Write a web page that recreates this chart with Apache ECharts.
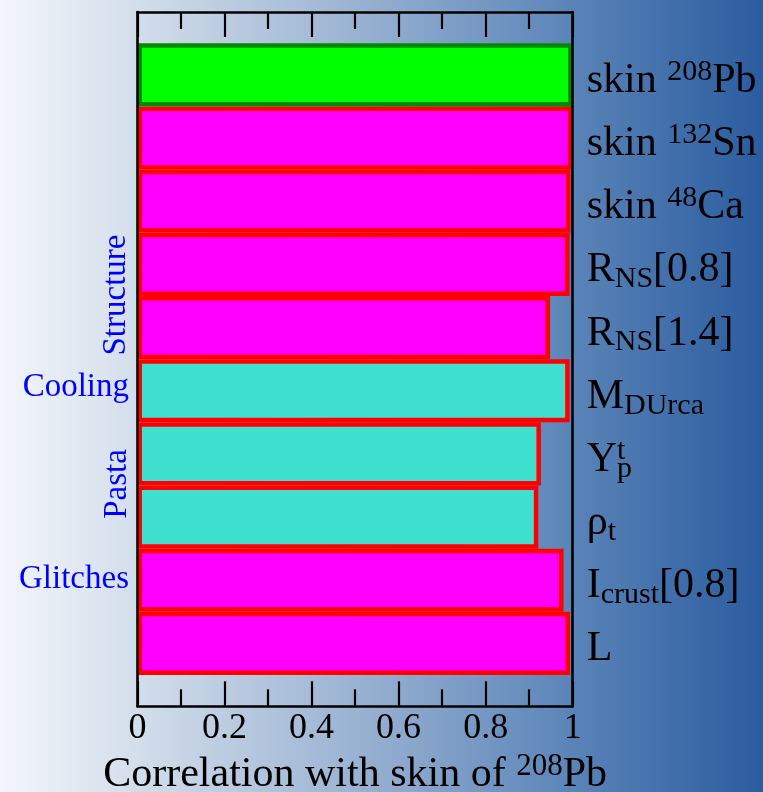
<!DOCTYPE html>
<html>
<head>
<meta charset="utf-8">
<title>Correlation with skin of 208Pb</title>
<script src="https://cdn.jsdelivr.net/npm/echarts@6/dist/echarts.min.js"></script>
<style>
  html, body { margin: 0; padding: 0; }
  #chart { width: 763px; height: 792px; }
</style>
</head>
<body>
<div id="chart"></div>
<script>
// Observables, listed from top to bottom
const categories = ['skin 208Pb', 'skin 132Sn', 'skin 48Ca', 'RNS[0.8]', 'RNS[1.4]',
                    'MDUrca', 'Ypt', 'rhot', 'Icrust[0.8]', 'L'];
// Rich-text forms of the observable names (sub/superscripts)
const categoryLabels = [
  '{m|skin }{sup|208}{m|Pb}',
  '{m|skin }{sup|132}{m|Sn}',
  '{m|skin }{sup|48}{m|Ca}',
  '{m|R}{sub|NS}{m|[0.8]}',
  '{m|R}{sub|NS}{m|[1.4]}',
  '{m|M}{sub|DUrca}',
  '{m|Y}{supz|t}{sub|p}',
  '{m|ρ}{sub|t}',
  '{m|I}{sub|crust}{m|[0.8]}',
  '{m|L}'
];
// Correlation coefficient with the neutron skin of 208Pb
const correlation = [1.0, 1.0, 0.995, 0.993, 0.948, 0.993, 0.927, 0.921, 0.979, 0.994];
// Bar kind: reference, structure/glitch quantities, cooling/pasta quantities
const barKind = ['ref', 'mag', 'mag', 'mag', 'mag', 'cyan', 'cyan', 'cyan', 'mag', 'mag'];
// Bottom axis tick labels
const xTickLabels = ['0', '0.2', '0.4', '0.6', '0.8', '1'];
// Group labels on the left
const groupLabels = ['Structure', 'Cooling', 'Pasta', 'Glitches'];

const kindStyle = {
  ref:  { color: '#00ff00', borderColor: '#008a00' },
  mag:  { color: '#ff00ff', borderColor: '#ff0000' },
  cyan: { color: '#40e0d0', borderColor: '#ff0000' }
};

const FONT = '"Liberation Serif", "Times New Roman", serif';

// Draw from bottom to top so the top bar is painted last
const order = categories.map((_, i) => i).reverse();
const yCats = order.map(i => categories[i]);
const labelMap = {};
categories.forEach((c, i) => { labelMap[c] = categoryLabels[i]; });
const barData = order.map(i => ({
  value: correlation[i],
  itemStyle: {
    color: kindStyle[barKind[i]].color,
    borderColor: kindStyle[barKind[i]].borderColor,
    borderWidth: 4.5
  }
}));

const chart = echarts.init(document.getElementById('chart'), null, { renderer: 'canvas' });

const frameLeft = 137.5, frameRight = 190.3;
const frameAxisLine = { show: true, onZero: false, lineStyle: { color: '#000', width: 2.6 } };
const frameTick = { show: true, inside: true, length: 25, lineStyle: { color: '#000', width: 2.2 } };
const frameMinor = { show: true, splitNumber: 2, length: 17, lineStyle: { color: '#000', width: 2.2 } };

const option = {
  animation: false,
  backgroundColor: {
    type: 'linear', x: 0, y: 0, x2: 1, y2: 0,
    colorStops: [
      { offset: 0, color: '#f3f6fb' },
      { offset: 0.18, color: '#d3deeb' },
      { offset: 0.5, color: '#93adcf' },
      { offset: 0.75, color: '#5a84b8' },
      { offset: 1, color: '#2b5c9f' }
    ]
  },
  grid: [
    { left: frameLeft, right: frameRight, top: 12, bottom: 85.7, containLabel: false, outerBoundsMode: 'none' },
    { left: frameLeft, right: frameRight, top: 43.3, bottom: 117, containLabel: false, outerBoundsMode: 'none' }
  ],
  xAxis: [
    {
      gridIndex: 0, type: 'value', position: 'bottom', min: 0, max: 1, interval: 0.2, z: 5,
      axisLine: frameAxisLine, axisTick: frameTick, minorTick: frameMinor,
      splitLine: { show: false },
      axisLabel: {
        show: true, margin: 4, color: '#000', fontSize: 36, fontFamily: FONT,
        formatter: (v, idx) => xTickLabels[idx]
      },
      name: '{m|Correlation with skin of }{sup|208}{m|Pb}',
      nameLocation: 'middle',
      nameGap: 44,
      nameTextStyle: {
        rich: {
          m: { fontSize: 42, fontFamily: FONT, color: '#000', lineHeight: 48 },
          sup: { fontSize: 31, fontFamily: FONT, color: '#000', lineHeight: 31, verticalAlign: 'top' }
        }
      }
    },
    {
      gridIndex: 0, type: 'value', position: 'top', min: 0, max: 1, interval: 0.2, z: 5,
      axisLine: frameAxisLine, axisTick: frameTick, minorTick: frameMinor,
      splitLine: { show: false },
      axisLabel: { show: false }
    },
    {
      gridIndex: 1, type: 'value', min: 0, max: 1, show: false
    }
  ],
  yAxis: [
    {
      gridIndex: 0, type: 'value', position: 'left', min: 0, max: 1, z: 5,
      axisLine: frameAxisLine, axisTick: { show: false }, axisLabel: { show: false },
      splitLine: { show: false }
    },
    {
      gridIndex: 0, type: 'value', position: 'right', min: 0, max: 1, z: 5,
      axisLine: frameAxisLine, axisTick: { show: false }, axisLabel: { show: false },
      splitLine: { show: false }
    },
    {
      gridIndex: 1, type: 'category', position: 'right', data: yCats,
      axisLine: { show: false }, axisTick: { show: false }, splitLine: { show: false },
      axisLabel: {
        show: true, margin: 14, interval: 0,
        padding: [12, 0, 0, 0],
        formatter: v => labelMap[v],
        rich: {
          m: { fontSize: 42, fontFamily: FONT, color: '#000', lineHeight: 48 },
          sup: { fontSize: 30, fontFamily: FONT, color: '#000', lineHeight: 30, verticalAlign: 'top' },
          supz: { fontSize: 30, fontFamily: FONT, color: '#000', lineHeight: 30, verticalAlign: 'top', width: 0 },
          sub: { fontSize: 30, fontFamily: FONT, color: '#000', lineHeight: 30, verticalAlign: 'bottom' }
        }
      }
    }
  ],
  series: [
    {
      type: 'bar',
      xAxisIndex: 2, yAxisIndex: 2,
      barCategoryGap: '0%',
      data: barData,
      z: 2
    }
  ],
  graphic: [
    {
      type: 'text', x: 116, y: 295, rotation: Math.PI / 2,
      style: { text: groupLabels[0], fill: '#0000ff', font: '33px ' + FONT, textAlign: 'center', textVerticalAlign: 'middle' }
    },
    {
      type: 'text', x: 129, y: 387,
      style: { text: groupLabels[1], fill: '#0000ff', font: '33px ' + FONT, textAlign: 'right', textVerticalAlign: 'middle' }
    },
    {
      type: 'text', x: 117, y: 484, rotation: Math.PI / 2,
      style: { text: groupLabels[2], fill: '#0000ff', font: '33px ' + FONT, textAlign: 'center', textVerticalAlign: 'middle' }
    },
    {
      type: 'text', x: 129, y: 579,
      style: { text: groupLabels[3], fill: '#0000ff', font: '33px ' + FONT, textAlign: 'right', textVerticalAlign: 'middle' }
    }
  ]
};

chart.setOption(option);
</script>
</body>
</html>
